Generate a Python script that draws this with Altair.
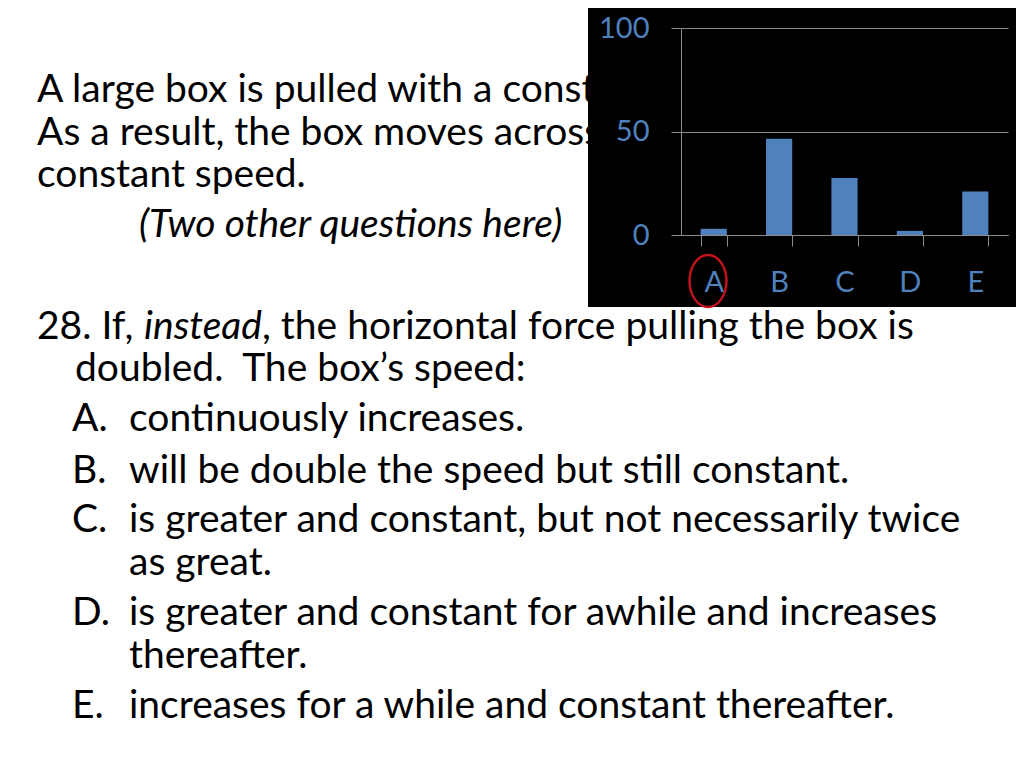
import altair as alt
import pandas as pd

# ---- data ----
categories = ["A", "B", "C", "D", "E"]
responses = [3, 46.5, 27.5, 2, 21]
y_ticks = [0, 50, 100]

intro_lines = [
    "A large box is pulled with a const",
    "As a result, the box moves across",
    "constant speed.",
]
aside = "(Two other questions here)"
q_start = "28. If, "
q_italic = "instead"
q_rest = ", the horizontal force pulling the box is"
q_line2 = "doubled.\u00a0 The box\u2019s speed:"
option_letters = ["A.", "B.", "C.", "D.", "E."]
option_texts = [
    ["continuously increases."],
    ["will be double the speed but still constant."],
    ["is greater and constant, but not necessarily twice", "as great."],
    ["is greater and constant for awhile and increases", "thereafter."],
    ["increases for a while and constant thereafter."],
]

FONT = "Lato"
TXT = 39
LINE_H = 42.5
BLUE = "#4F81BD"
GRAY = "#8C8C8C"

# plot origin on the page is (681, 28)
OX, OY = 681, 28
one_row = pd.DataFrame({"k": [0]})


def text_layer(s, px, py, italic=False, size=TXT, color="black"):
    lines = s if isinstance(s, list) else [s]
    txt = lines if len(lines) > 1 else lines[0]
    return alt.Chart(one_row).mark_text(
        text=txt, lineHeight=LINE_H,
        font=FONT, fontSize=size, align="left", baseline="alphabetic",
        fontStyle="italic" if italic else "normal", color=color,
    ).encode(x=alt.value(px - OX), y=alt.value(py - OY))


layers = []
layers.append(text_layer(intro_lines, 37, 102))
layers.append(text_layer(aside, 139, 237, italic=True))

# black panel behind the chart
panel = alt.Chart(one_row).mark_rect(color="black").encode(
    x=alt.value(588 - OX), x2=alt.value(1016 - OX),
    y=alt.value(0 - OY), y2=alt.value(307 - OY),
)
layers.append(panel)

bar_df = pd.DataFrame({"choice": categories, "pct": responses})
bars = alt.Chart(bar_df).mark_bar(color=BLUE).encode(
    x=alt.X("choice:N", sort=categories, title=None,
            scale=alt.Scale(paddingInner=0.6, paddingOuter=0.3),
            axis=alt.Axis(labelAngle=0, labelFont=FONT, labelFontSize=29,
                          labelColor=BLUE, labelPadding=22, tickBand="extent",
                          tickSize=11, tickColor=GRAY, domainColor=GRAY,
                          grid=False, zindex=1)),
    y=alt.Y("pct:Q", title=None, scale=alt.Scale(domain=[0, 100], nice=False),
            axis=alt.Axis(values=y_ticks, labelFont=FONT, labelFontSize=29,
                          labelColor=BLUE, labelPadding=22, tickSize=10,
                          tickColor=GRAY, domainColor=GRAY, gridColor=GRAY,
                          grid=True, zindex=1)),
)
layers.append(bars)

# red answer ellipse around "A"
ellipse = alt.Chart(one_row).mark_point(
    shape="M -0.71 0 A 0.71 1 0 1 0 0.71 0 A 0.71 1 0 1 0 -0.71 0 Z",
    size=2704, filled=False, stroke="#C0141C", strokeWidth=2.5, opacity=1,
).encode(x=alt.value(708 - OX), y=alt.value(281 - OY))
layers.append(ellipse)

layers.append(text_layer(q_start, 37, 339))
layers.append(text_layer(q_italic, 144, 339, italic=True))
layers.append(text_layer(q_rest, 262, 339))
layers.append(text_layer(q_line2, 75, 381))
opt_base = [431, 483, 532, 625, 718]
for letter, s, b in zip(option_letters, option_texts, opt_base):
    layers.append(text_layer(letter, 72, b))
    layers.append(text_layer(s, 129, b))

chart = alt.layer(*layers).properties(
    width=327, height=207,
    padding={"left": 673, "top": 20, "right": 8, "bottom": 525},
    autosize=alt.AutoSizeParams(type="none"),
    background="white",
).configure_view(stroke=None)

chart.save("out.html", embed_options={"renderer": "svg", "actions": False})
